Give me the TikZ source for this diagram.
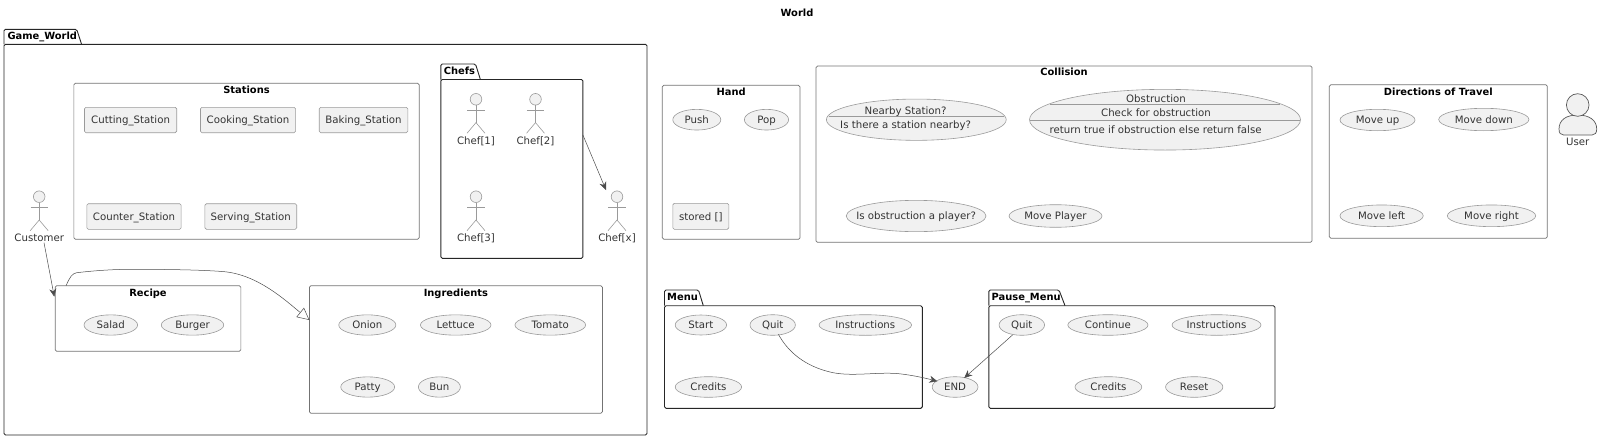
\documentclass[tikz,border=0pt]{standalone}
\usepackage{fontspec}
\setmainfont{DejaVu Sans}
\usetikzlibrary{arrows.meta,shapes.geometric}
\definecolor{ucfill}{HTML}{F1F1F1}
\definecolor{ucline}{HTML}{9A9A9A}
\tikzset{
  lbl/.style={font=\fontsize{10.2}{12}\selectfont, text=black!80, text height=8.5pt, text depth=1pt, inner sep=0pt},
  ttl/.style={font=\fontsize{9.9}{12}\selectfont\bfseries, text=black, text height=8pt, text depth=1.5pt, inner sep=0pt},
  usecase/.style={lbl, ellipse, draw=ucline, fill=ucfill, line width=0.6pt, inner sep=0pt, inner xsep=-30pt, outer sep=0pt},
  boxitem/.style={lbl, rectangle, rounded corners=1.5pt, draw=ucline, fill=ucfill, line width=0.6pt, outer sep=0pt},
  rectframe/.style={rectangle, rounded corners=1.5pt, draw=black!55, line width=0.7pt, inner sep=0pt, outer sep=0pt},
  pkgframe/.style={rectangle, rounded corners=1.5pt, draw=black!85, line width=0.9pt, inner sep=0pt, outer sep=0pt},
  pkgtab/.style={draw=black!85, line width=0.9pt, rounded corners=1.5pt},
  conn/.style={draw=black!70, line width=0.5pt, -{Stealth[length=8pt,width=7pt,inset=2.5pt]}},
  extends/.style={draw=black!70, line width=0.5pt, -{Triangle[open,length=12pt,width=12pt]}},
  actorfig/.pic={
    \node[circle, draw=ucline, fill=ucfill, line width=0.6pt, minimum size=11.6pt, inner sep=0pt] (-head) at (0,0) {};
    \draw[ucline, line width=0.6pt] (0,5.8)--(0,23.3);
    \draw[ucline, line width=0.6pt] (-8.6,10.7)--(8.6,10.7);
    \draw[ucline, line width=0.6pt] (-9,34)--(0,23.3)--(9,34);
  },
}
\begin{document}
\begin{tikzpicture}[x=1pt,y=-1pt]
\useasboundingbox (0,0) rectangle (1600,439);
\node[ttl] (worldtitle) at (797,13) {World};
%
% Game_World
\node[pkgframe, minimum width=643, minimum height=390.7] (gameworld) at (325.5,239.65) {};
\draw[pkgtab] (4,44.3)--(4,29.3)--(76.7,29.3)--(81.6,44.3);
\node[ttl, anchor=west] (gameworldtitle) at (7.3,36.5) {Game\_World};
%
\node[rectframe, minimum width=345.3, minimum height=156] (stations) at (246.5,161.3) {};
\node[ttl] (stationstitle) at (246.5,90.3) {Stations};
\node[boxitem, minimum width=92.2, minimum height=25.4] (cutting) at (130.6,120) {Cutting\_Station};
\node[boxitem, minimum width=95.1, minimum height=25.4] (cooking) at (248,120) {Cooking\_Station};
\node[boxitem, minimum width=88.6, minimum height=25.4] (baking) at (363.5,120) {Baking\_Station};
\node[boxitem, minimum width=94.3, minimum height=25.6] (counter) at (134,216.5) {Counter\_Station};
\node[boxitem, minimum width=91.8, minimum height=25.6] (serving) at (250.8,216.5) {Serving\_Station};
%
\node[pkgframe, minimum width=142.1, minimum height=178.8] (chefs) at (511.85,168.9) {};
\draw[pkgtab] (440.8,79.5)--(440.8,64)--(475.5,64)--(480.4,79.5);
\node[ttl, anchor=west] (chefstitle) at (443.6,71) {Chefs};
\pic (chefone) at (476,99.3) {actorfig};
\node[lbl] (chefonelabel) at (476,141) {Chef[1]};
\pic (cheftwo) at (535.5,99.3) {actorfig};
\node[lbl] (cheftwolabel) at (535.5,141) {Chef[2]};
\pic (chefthree) at (476,196.7) {actorfig};
\node[lbl] (chefthreelabel) at (476,238) {Chef[3]};
\pic (chefx) at (617,196.7) {actorfig};
\node[lbl] (chefxlabel) at (617,238) {Chef[x]};
\pic (customer) at (39.2,196.7) {actorfig};
\node[lbl] (customerlabel) at (39.2,238) {Customer};
%
\node[rectframe, minimum width=185.7, minimum height=65.6] (recipe) at (148,318.5) {};
\node[ttl] (recipetitle) at (148,293) {Recipe};
\node[usecase, minimum width=53.6, minimum height=20.3] (salad) at (110.8,325) {Salad};
\node[usecase, minimum width=62.5, minimum height=20.3] (burger) at (192.5,325) {Burger};
%
\node[rectframe, minimum width=293, minimum height=127.6] (ingredients) at (455.9,349.5) {};
\node[ttl] (ingredientstitle) at (455.9,293) {Ingredients};
\node[usecase, minimum width=57.1, minimum height=20.3] (onion) at (367.3,325) {Onion};
\node[usecase, minimum width=70.6, minimum height=20.3] (lettuce) at (455.7,325) {Lettuce};
\node[usecase, minimum width=70.7, minimum height=20.3] (tomato) at (550.3,325) {Tomato};
\node[usecase, minimum width=53.9, minimum height=20.3] (patty) at (367.7,387) {Patty};
\node[usecase, minimum width=42, minimum height=20.3] (bun) at (439.4,387) {Bun};
%
\coordinate (chefsout) at (582.9,135);
\coordinate (chefxin) at (606,190);
\coordinate (customerout) at (44,242.7);
\coordinate (recipein) at (54.3,296.7);
\coordinate (recipeout) at (66,285.7);
\coordinate (ingredientsin) at (309.4,320);
\draw[conn] (chefsout)--(chefxin);
\draw[conn] (customerout)--(recipein);
\draw[extends] (recipeout) .. controls (70,277) and (72,273.5) .. (76.7,272.7) .. controls (100,270) and (120,269) .. (143,269.3) .. controls (175,269.5) and (205,270) .. (224.5,271.7) .. controls (258,275) and (285,300) .. (ingredientsin);
%
% Hand
\node[rectframe, minimum width=137.7, minimum height=154] (hand) at (731.15,162.3) {};
\node[ttl] (handtitle) at (731.15,92.7) {Hand};
\node[usecase, minimum width=48, minimum height=20.7] (push) at (696.8,119.7) {Push};
\node[usecase, minimum width=44.2, minimum height=20.7] (pop) at (766.5,119.7) {Pop};
\node[boxitem, minimum width=56, minimum height=26] (stored) at (700.8,216.3) {stored []};
%
% Collision
\node[rectframe, minimum width=496, minimum height=176.3] (collision) at (1064,154.15) {};
\node[ttl] (collisiontitle) at (1064,72.7) {Collision};
\node[usecase, minimum width=179.8, minimum height=41.3] (nearby) at (916.3,119.7) {};
\draw[ucline, line width=0.7pt] (828.5,116)--(1004,116);
\node[lbl] (nearbyname) at (905.6,110.5) {Nearby Station?};
\node[lbl] (nearbytext) at (905.6,125) {Is there a station nearby?};
\node[usecase, minimum width=271, minimum height=60.7] (obstruction) at (1165,119.7) {};
\draw[ucline, line width=0.7pt] (1050.4,104.3)--(1279.7,104.3);
\draw[ucline, line width=0.7pt] (1030,120.3)--(1300,120.3);
\node[lbl] (obstructionname) at (1156,98.3) {Obstruction};
\node[lbl] (obstructioncheck) at (1156,112.7) {Check for obstruction};
\node[lbl] (obstructiontext) at (1155.6,130) {return true if obstruction else return false};
\node[usecase, minimum width=139.8, minimum height=31.3] (isplayer) at (916.1,216) {Is obstruction a player?};
\node[usecase, minimum width=93, minimum height=22.6] (moveplayer) at (1055.5,216) {Move Player};
%
% Directions of Travel
\node[rectframe, minimum width=218, minimum height=153.6] (directions) at (1438.3,161.5) {};
\node[ttl] (directionstitle) at (1438.3,92.3) {Directions of Travel};
\node[usecase, minimum width=75, minimum height=21.4] (moveup) at (1377.5,120) {Move up};
\node[usecase, minimum width=90.3, minimum height=22.4] (movedown) at (1483.8,119.5) {Move down};
\node[usecase, minimum width=83.3, minimum height=21.7] (moveleft) at (1381.6,215.8) {Move left};
\node[usecase, minimum width=88.4, minimum height=21.7] (moveright) at (1491.5,215.8) {Move right};
%
% User
\draw[draw=black!65, fill=ucfill, line width=0.7pt] (1559,129) .. controls (1559,120) and (1566,115) .. (1577.7,115) .. controls (1589,115) and (1596.7,120) .. (1596.7,129) .. controls (1596.7,133) and (1595,135) .. (1592,135) -- (1563.5,135) .. controls (1560.5,135) and (1559,133) .. (1559,129) -- cycle;
\node[circle, draw=black!65, fill=ucfill, line width=0.7pt, minimum size=22.6pt, inner sep=0pt] (userhead) at (1577.7,105) {};
\node[lbl] (userlabel) at (1577.7,141.7) {User};
%
% Menu
\node[pkgframe, minimum width=257.8, minimum height=102.6] (menu) at (793.4,357) {};
\draw[pkgtab] (664.5,305.7)--(664.5,290)--(698.5,290)--(703.3,305.7);
\node[ttl, anchor=west] (menutitle) at (667,297.3) {Menu};
\node[usecase, minimum width=51.4, minimum height=20] (start) at (700.9,325) {Start};
\node[usecase, minimum width=45.4, minimum height=20.6] (menuquit) at (772.7,325) {Quit};
\node[usecase, minimum width=92.6, minimum height=20.6] (menuinstr) at (865.3,325) {Instructions};
\node[usecase, minimum width=66.4, minimum height=20.6] (menucredits) at (708.4,387) {Credits};
%
\node[usecase, minimum width=45.8, minimum height=20.6] (endnode) at (955.1,387) {END};
%
% Pause_Menu
\node[pkgframe, minimum width=286.2, minimum height=102.6] (pause) at (1131.9,357) {};
\draw[pkgtab] (988.8,305.7)--(988.8,290)--(1059,290)--(1065,305.7);
\node[ttl, anchor=west] (pausetitle) at (991.5,297.3) {Pause\_Menu};
\node[usecase, minimum width=45.5, minimum height=20.6] (pausequit) at (1021.8,325) {Quit};
\node[usecase, minimum width=80.2, minimum height=20.6] (continue) at (1107.9,325) {Continue};
\node[usecase, minimum width=89, minimum height=20.6] (pauseinstr) at (1216.5,325) {Instructions};
\node[usecase, minimum width=66.8, minimum height=20.6] (pausecredits) at (1108.4,387) {Credits};
\node[usecase, minimum width=57.3, minimum height=20.6] (reset) at (1194.2,387) {Reset};
%
\coordinate (menuquitout) at (778.4,334.3);
\coordinate (pausequitout) at (1012.5,335);
\coordinate (endleft) at (937.4,381.3);
\coordinate (endright) at (964.2,378);
\draw[conn] (menuquitout) .. controls (788,352) and (805,366) .. (830,372) .. controls (850,377) and (875,372) .. (897,373.5) .. controls (912,375) and (925,378) .. (endleft);
\draw[conn] (pausequitout)--(endright);
\end{tikzpicture}
\end{document}
